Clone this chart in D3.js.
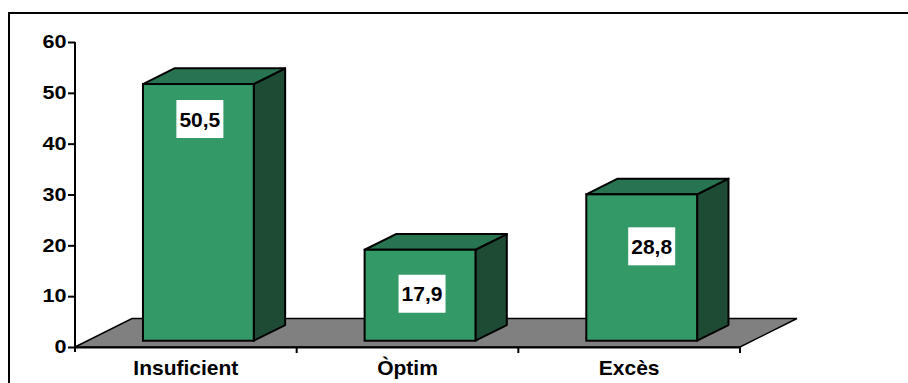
<!DOCTYPE html>
<html>
<head>
<meta charset="utf-8">
<script src="https://cdn.jsdelivr.net/npm/d3@7"></script>
<style>
  html, body { margin: 0; padding: 0; background: #fff; }
  svg { display: block; font-family: "Liberation Sans", Arial, sans-serif; font-weight: bold; }
</style>
</head>
<body>
<svg id="chart" width="908" height="383"></svg>
<script>
// Data
const categories = ["Insuficient", "Òptim", "Excès"];
const values = [50.5, 17.9, 28.8];
const valueLabels = ["50,5", "17,9", "28,8"];
const yTicks = [0, 10, 20, 30, 40, 50, 60];

const svg = d3.select("#chart");

// Front plane of the plot
const x = d3.scaleBand().domain(categories).range([75, 740]).padding(0);
const y = d3.scaleLinear().domain([0, 60]).range([347, 42]);

// Oblique depth of the floor; bars sit in the middle of it
const depth = { dx: 57, dy: -28.5 };
const barFront = 0.22, barBack = 0.77;
const barW = x.bandwidth() / 2;

const colors = { front: "#339966", top: "#287450", side: "#1d4b33", floor: "#808080" };

// Outer frame
svg.append("rect")
  .attr("x", 9).attr("y", 13).attr("width", 920).attr("height", 400)
  .attr("fill", "none").attr("stroke", "#000").attr("stroke-width", 2);

// Floor
const [x0, x1] = x.range();
const y0 = y(0);
svg.append("path")
  .attr("d", `M${x0},${y0} L${x1},${y0} L${x1 + depth.dx},${y0 + depth.dy} L${x0 + depth.dx},${y0 + depth.dy} Z`)
  .attr("fill", colors.floor).attr("stroke", "#000").attr("stroke-width", 1.5);

// Value axis
const yAxis = d3.axisLeft(y).tickValues(yTicks).tickSize(7).tickPadding(2).tickFormat(d3.format("d"));
const gy = svg.append("g").attr("transform", `translate(${x0},0)`).call(yAxis);
gy.select(".domain").attr("stroke-width", 2).attr("d", `M0,${y(60)}V${y0 + 5}`);
gy.selectAll(".tick line").attr("stroke-width", 2);
gy.selectAll(".tick text")
  .attr("font-size", 18).attr("font-weight", "bold").attr("fill", "#000")
  .attr("font-family", "Liberation Sans, Arial, sans-serif")
  .attr("x", 0)
  .attr("transform", "translate(-8.5,0) scale(1.2,1)");

// Category axis (front edge of floor)
const xAxis = d3.axisBottom(x).tickSize(0).tickPadding(13);
const gx = svg.append("g").attr("transform", `translate(0,${y0})`).call(xAxis);
gx.select(".domain").attr("stroke-width", 2);
gx.selectAll(".tick text")
  .attr("font-size", 21).attr("font-weight", "bold").attr("fill", "#000")
  .attr("font-family", "Liberation Sans, Arial, sans-serif")
  .attr("dy", "0.71em").attr("y", 13);
// Category separators
gx.selectAll("line.sep")
  .data(categories.map(c => x(c)).concat([x1]).slice(1))
  .join("line").attr("class", "sep")
  .attr("x1", d => d).attr("x2", d => d).attr("y1", 0).attr("y2", 6)
  .attr("stroke", "#000").attr("stroke-width", 2);

// Bars
const bars = svg.append("g").selectAll("g.bar")
  .data(categories.map((c, i) => ({ c, v: values[i], label: valueLabels[i], i })))
  .join("g").attr("class", "bar");

const fx = barFront * depth.dx, fy = barFront * depth.dy;
const bdx = (barBack - barFront) * depth.dx, bdy = (barBack - barFront) * depth.dy;

bars.each(function (d) {
  const g = d3.select(this);
  const left = x(d.c) + (x.bandwidth() - barW) / 2 + fx;
  const right = left + barW;
  const top = y(d.v) + fy;
  const bottom = y(0) + fy;
  // side face
  g.append("path")
    .attr("d", `M${right},${top} L${right + bdx},${top + bdy} L${right + bdx},${bottom + bdy} L${right},${bottom} Z`)
    .attr("fill", colors.side).attr("stroke", "#000").attr("stroke-width", 2).attr("stroke-linejoin", "round");
  // top face
  g.append("path")
    .attr("d", `M${left},${top} L${left + bdx},${top + bdy} L${right + bdx},${top + bdy} L${right},${top} Z`)
    .attr("fill", colors.top).attr("stroke", "#000").attr("stroke-width", 2).attr("stroke-linejoin", "round");
  // front face
  g.append("rect")
    .attr("x", left).attr("y", top).attr("width", barW).attr("height", bottom - top)
    .attr("fill", colors.front).attr("stroke", "#000").attr("stroke-width", 2);
});

// Value labels in white boxes
const labelShift = [[1.5, 35], [2, 44], [10, 52]];
bars.each(function (d) {
  const g = d3.select(this);
  const cx = x(d.c) + x.bandwidth() / 2 + fx + labelShift[d.i][0];
  const cy = y(d.v) + fy + labelShift[d.i][1];
  g.append("rect")
    .attr("x", cx - 23.5).attr("y", cy - 19).attr("width", 47).attr("height", 38)
    .attr("fill", "#fff");
  g.append("text")
    .attr("x", cx).attr("y", cy + 7.5)
    .attr("text-anchor", "middle").attr("font-size", 21).attr("font-weight", "bold")
    .text(d.label);
});
</script>
</body>
</html>
